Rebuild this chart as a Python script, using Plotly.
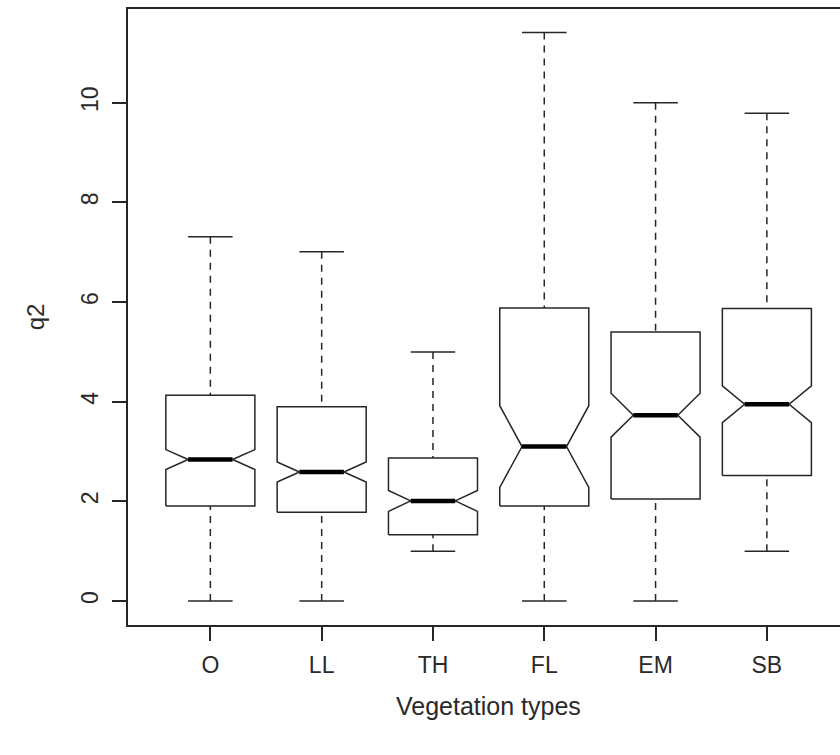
import plotly.graph_objects as go

# Five-number summaries and notch half-spans per vegetation type
categories = ["O", "LL", "TH", "FL", "EM", "SB"]
whisker_low = [0.0, 0.0, 1.0, 0.0, 0.0, 1.0]
quartile_1 = [1.91, 1.78, 1.33, 1.91, 2.05, 2.52]
medians = [2.84, 2.59, 2.01, 3.10, 3.73, 3.95]
quartile_3 = [4.13, 3.90, 2.87, 5.88, 5.40, 5.87]
whisker_high = [7.31, 7.01, 5.00, 11.41, 10.00, 9.79]
notch_half = [0.20, 0.20, 0.21, 0.82, 0.44, 0.37]

y_ticks = [0, 2, 4, 6, 8, 10]

ink = "#262626"
text_color = "#2a2a2a"
font_family = "Liberation Sans, Arial, sans-serif"
box_half = 0.4      # half of box width (boxwex 0.8)
notch_inner = 0.2   # notch narrows to half the box width
cap_half = 0.2      # staple half width

fig = go.Figure()
positions = list(range(1, len(categories) + 1))

for i, x in enumerate(positions):
    lo, q1, md, q3, hi = (whisker_low[i], quartile_1[i], medians[i],
                          quartile_3[i], whisker_high[i])
    n_lo, n_hi = md - notch_half[i], md + notch_half[i]

    # notched box outline
    bx = [x - box_half, x - box_half, x - notch_inner, x - box_half, x - box_half,
          x + box_half, x + box_half, x + notch_inner, x + box_half, x + box_half,
          x - box_half]
    by = [q1, n_lo, md, n_hi, q3, q3, n_hi, md, n_lo, q1, q1]
    fig.add_trace(go.Scatter(x=bx, y=by, mode="lines",
                             line=dict(color=ink, width=1.5),
                             hoverinfo="skip", showlegend=False))

    # dashed whiskers, drawn from the extremes to the hinges
    fig.add_trace(go.Scatter(x=[x, x, None, x, x], y=[hi, q3, None, lo, q1],
                             mode="lines",
                             line=dict(color=ink, width=1.5, dash="7px,6px"),
                             hoverinfo="skip", showlegend=False))

    # staples
    fig.add_trace(go.Scatter(x=[x - cap_half, x + cap_half, None, x - cap_half, x + cap_half],
                             y=[hi, hi, None, lo, lo], mode="lines",
                             line=dict(color=ink, width=1.5),
                             hoverinfo="skip", showlegend=False))

    # median bar
    fig.add_trace(go.Scatter(x=[x - notch_inner, x + notch_inner], y=[md, md],
                             mode="lines", line=dict(color="#000000", width=4.5),
                             hoverinfo="skip", showlegend=False))

# x-axis title centred on the middle of the category span
fig.add_annotation(
    text="Vegetation types", x=(positions[0] + positions[-1]) / 2, xref="x",
    y=0, yref="paper", yanchor="middle", yshift=-81, showarrow=False,
    font=dict(family=font_family, size=25, color=text_color),
)

fig.update_layout(
    width=840, height=755,
    margin=dict(l=128, r=0, t=9, b=130),
    paper_bgcolor="white", plot_bgcolor="white",
    font=dict(family=font_family, size=23, color=text_color),
    showlegend=False,
)

fig.update_xaxes(
    range=[0.26, 6.657],
    tickmode="array", tickvals=positions, ticktext=categories,
    ticks="outside", ticklen=14, tickwidth=1.5, tickcolor=ink,
    ticklabelstandoff=5,
    showline=True, linecolor=ink, linewidth=1.5, mirror=True,
    showgrid=False, zeroline=False,
)

fig.update_yaxes(
    range=[-0.48, 11.88],
    tickmode="array", tickvals=y_ticks, ticktext=[str(v) for v in y_ticks],
    tickangle=-90,
    ticks="outside", ticklen=14, tickwidth=1.5, tickcolor=ink,
    ticklabelstandoff=5,
    showline=True, linecolor=ink, linewidth=1.5, mirror=False,
    showgrid=False, zeroline=False,
    title=dict(text="q2", standoff=26,
               font=dict(family=font_family, size=24, color=text_color)),
)

fig.write_html("out.html")
